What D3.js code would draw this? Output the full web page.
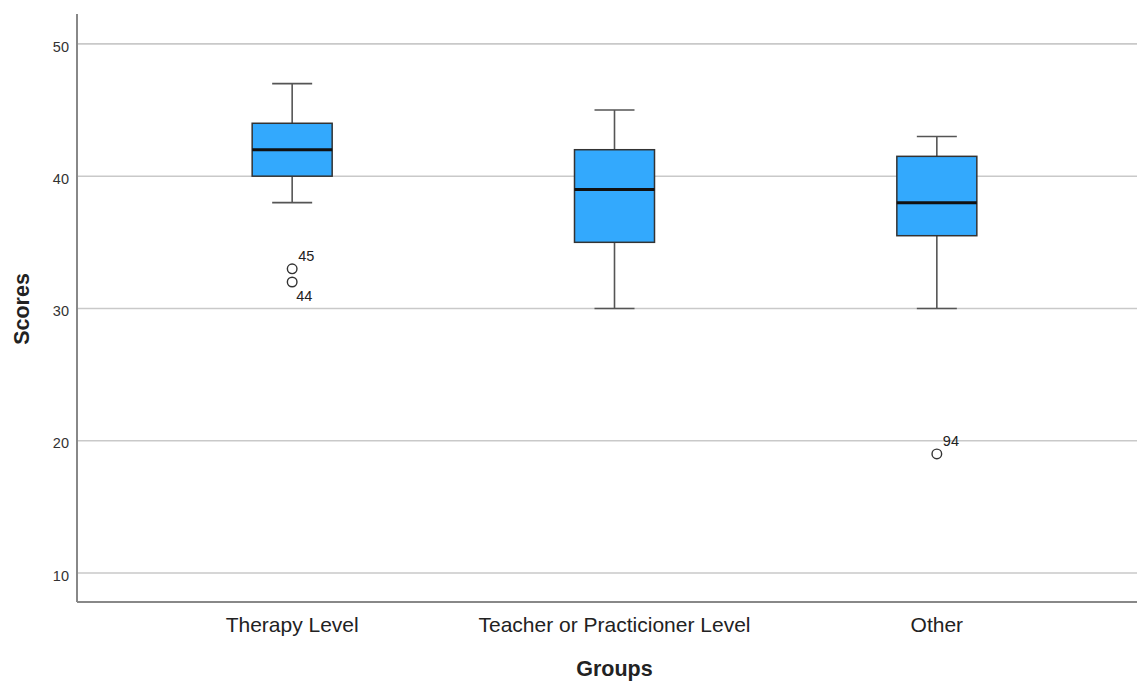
<!DOCTYPE html>
<html lang="en">
<head>
<meta charset="UTF-8">
<script src="https://d3js.org/d3.v7.min.js"></script>
<style>
  body { margin: 0; background: #fff; }
  svg { font-family: "Liberation Sans", Arial, sans-serif; }
</style>
</head>
<body>
<div id="plot"></div>
<script>
// box plot data
const groups = ["Therapy Level", "Teacher or Practicioner Level", "Other"];
const whiskerLow = [38, 30, 30];
const q1 = [40, 35, 35.5];
const median = [42, 39, 38];
const q3 = [44, 42, 41.5];
const whiskerHigh = [47, 45, 43];
const outlierGroup = ["Therapy Level", "Therapy Level", "Other"];
const outlierValue = [33, 32, 19];
const outlierLabel = ["45", "44", "94"];
const yTicks = [10, 20, 30, 40, 50];

const width = 1137, height = 681;
const plot = {left: 77, right: 1137, top: 14, bottom: 602};

const svg = d3.select('#plot').append('svg')
    .attr('width', width)
    .attr('height', height);

const x = d3.scaleBand()
    .domain(groups)
    .range([131, 1098]);

const y = d3.scaleLinear()
    .domain([7.81, 52.26])
    .range([plot.bottom, plot.top]);

// grid lines
svg.append('g')
  .selectAll('line')
  .data(yTicks)
  .join('line')
    .attr('x1', plot.left)
    .attr('x2', plot.right)
    .attr('y1', d => y(d))
    .attr('y2', d => y(d))
    .attr('stroke', '#c9c9c9')
    .attr('stroke-width', 1.6);

// y axis
const yAxis = svg.append('g')
    .attr('transform', `translate(${plot.left},0)`)
    .call(d3.axisLeft(y).tickValues(yTicks).tickSize(0).tickPadding(8));
yAxis.select('.domain').remove();
yAxis.selectAll('text')
    .attr('font-size', 14.5)
    .attr('dy', '0.5em')
    .attr('fill', '#333')
    .attr('font-family', '"Liberation Sans", Arial, sans-serif');

// x axis labels
const xAxis = svg.append('g')
    .attr('transform', `translate(0,${plot.bottom})`)
    .call(d3.axisBottom(x).tickSize(0).tickPadding(15));
xAxis.select('.domain').remove();
xAxis.selectAll('text')
    .attr('font-size', 21)
    .attr('fill', '#222')
    .attr('font-family', '"Liberation Sans", Arial, sans-serif');

// frame
svg.append('line')
    .attr('x1', plot.left).attr('x2', plot.left)
    .attr('y1', plot.top).attr('y2', plot.bottom)
    .attr('stroke', '#888').attr('stroke-width', 2);
svg.append('line')
    .attr('x1', plot.left).attr('x2', plot.right)
    .attr('y1', plot.bottom).attr('y2', plot.bottom)
    .attr('stroke', '#888').attr('stroke-width', 2);

// boxes
const boxW = 80, capW = 40;
const boxes = svg.append('g')
  .selectAll('g')
  .data(groups.map((g, i) => ({
    g, lo: whiskerLow[i], q1: q1[i], med: median[i], q3: q3[i], hi: whiskerHigh[i]
  })))
  .join('g')
    .attr('transform', d => `translate(${x(d.g) + x.bandwidth() / 2},0)`);

boxes.append('line')
    .attr('y1', d => y(d.hi)).attr('y2', d => y(d.q3))
    .attr('stroke', '#555').attr('stroke-width', 1.6);
boxes.append('line')
    .attr('y1', d => y(d.q1)).attr('y2', d => y(d.lo))
    .attr('stroke', '#555').attr('stroke-width', 1.6);
boxes.append('line')
    .attr('x1', -capW / 2).attr('x2', capW / 2)
    .attr('y1', d => y(d.hi)).attr('y2', d => y(d.hi))
    .attr('stroke', '#555').attr('stroke-width', 1.6);
boxes.append('line')
    .attr('x1', -capW / 2).attr('x2', capW / 2)
    .attr('y1', d => y(d.lo)).attr('y2', d => y(d.lo))
    .attr('stroke', '#555').attr('stroke-width', 1.6);
boxes.append('rect')
    .attr('x', -boxW / 2)
    .attr('width', boxW)
    .attr('y', d => y(d.q3))
    .attr('height', d => y(d.q1) - y(d.q3))
    .attr('fill', '#33a9fd')
    .attr('stroke', '#333')
    .attr('stroke-width', 1.5);
boxes.append('line')
    .attr('x1', -boxW / 2).attr('x2', boxW / 2)
    .attr('y1', d => y(d.med)).attr('y2', d => y(d.med))
    .attr('stroke', '#111').attr('stroke-width', 3);

// outliers
const outliers = outlierValue.map((v, i) => ({ g: outlierGroup[i], v, label: outlierLabel[i] }));
const og = svg.append('g');
og.selectAll('circle')
  .data(outliers)
  .join('circle')
    .attr('cx', d => x(d.g) + x.bandwidth() / 2)
    .attr('cy', d => y(d.v))
    .attr('r', 4.8)
    .attr('fill', 'none')
    .attr('stroke', '#333')
    .attr('stroke-width', 1.4);
og.selectAll('text')
  .data(outliers)
  .join('text')
    .attr('x', d => x(d.g) + x.bandwidth() / 2 + (d.label === '44' ? 4 : 6))
    .attr('y', d => y(d.v) + (d.label === '44' ? 19 : -8))
    .attr('font-size', 14.5)
    .attr('fill', '#222')
    .text(d => d.label);

// axis titles
svg.append('text')
    .attr('x', x(groups[1]) + x.bandwidth() / 2)
    .attr('y', 676)
    .attr('text-anchor', 'middle')
    .attr('font-size', 21.5)
    .attr('font-weight', 'bold')
    .attr('fill', '#222')
    .text('Groups');
svg.append('text')
    .attr('transform', `translate(29,${(plot.top + plot.bottom) / 2 + 1}) rotate(-90)`)
    .attr('text-anchor', 'middle')
    .attr('font-size', 21.5)
    .attr('font-weight', 'bold')
    .attr('fill', '#222')
    .text('Scores');
</script>
</body>
</html>
